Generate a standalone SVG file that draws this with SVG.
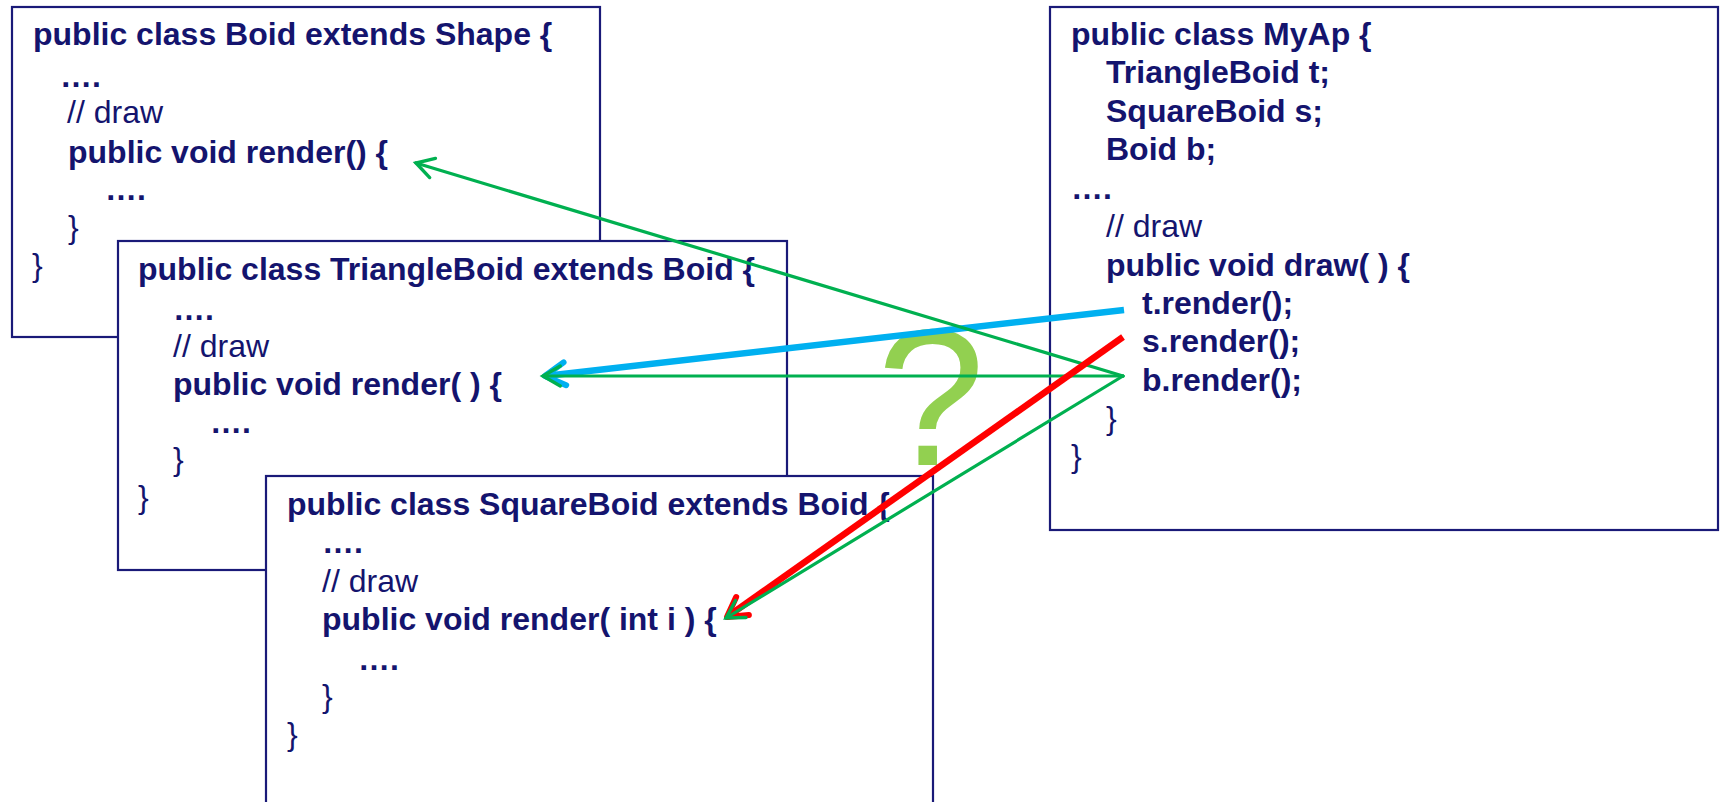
<svg xmlns="http://www.w3.org/2000/svg" width="1725" height="802" viewBox="0 0 1725 802">
  <style>
    .box { fill: #ffffff; stroke: #1a1a78; stroke-width: 2.2; }
    .t { font-family: "Liberation Sans", Arial, sans-serif; font-size: 32px; fill: #14146e; }
    .b { font-weight: bold; }
    .q { font-family: "Liberation Sans", Arial, sans-serif; font-size: 194px; fill: #92d050; }
    .cg { stroke: #00b050; stroke-width: 3.2; fill: none; stroke-linecap: round; }
    .cb { stroke: #00b0f0; stroke-width: 6.5; fill: none; stroke-linecap: butt; }
    .cr { stroke: #ff0000; stroke-width: 6.5; fill: none; stroke-linecap: butt; }
  </style>
  <defs>
    <marker id="mg" markerUnits="userSpaceOnUse" markerWidth="40" markerHeight="40" refX="0" refY="0" orient="auto" overflow="visible">
      <path d="M -17.3 -10 L 0 0 L -17.3 10" fill="none" stroke="#00b050" stroke-width="3.4" stroke-linecap="round" stroke-linejoin="miter"/>
    </marker>
    <marker id="mb" markerUnits="userSpaceOnUse" markerWidth="40" markerHeight="40" refX="0" refY="0" orient="auto" overflow="visible">
      <path d="M -20 -11.5 L 0 0 L -20 11.5" fill="none" stroke="#00b0f0" stroke-width="6" stroke-linecap="round" stroke-linejoin="round"/>
    </marker>
    <marker id="mr" markerUnits="userSpaceOnUse" markerWidth="40" markerHeight="40" refX="0" refY="0" orient="auto" overflow="visible">
      <path d="M -19 -11 L 0 0 L -19 11" fill="none" stroke="#ff0000" stroke-width="6" stroke-linecap="round" stroke-linejoin="round"/>
    </marker>
  </defs>
  <rect width="1725" height="802" fill="#ffffff"/>

  <g id="boid">
    <rect class="box" x="12" y="7" width="588" height="330"/>
    <text class="t b" x="33" y="45">public class Boid extends Shape {</text>
    <text class="t b" x="60" y="87">….</text>
    <text class="t" x="67" y="123">// draw</text>
    <text class="t b" x="68" y="163">public void render() {</text>
    <text class="t b" x="105" y="200">….</text>
    <text class="t" x="68" y="238">}</text>
    <text class="t" x="32" y="276">}</text>
  </g>

  <g id="triangleboid">
    <rect class="box" x="118" y="241" width="669" height="329"/>
    <text class="t b" x="138" y="280">public class TriangleBoid extends Boid {</text>
    <text class="t b" x="173" y="320">….</text>
    <text class="t" x="173" y="357">// draw</text>
    <text class="t b" x="173" y="395">public void render( ) {</text>
    <text class="t b" x="210" y="433">….</text>
    <text class="t" x="173" y="470">}</text>
    <text class="t" x="138" y="508">}</text>
  </g>

  <g id="squareboid">
    <rect class="box" x="266" y="476" width="667" height="340"/>
    <text class="t b" x="287" y="515">public class SquareBoid extends Boid {</text>
    <text class="t b" x="322" y="553">….</text>
    <text class="t" x="322" y="592">// draw</text>
    <text class="t b" x="322" y="630">public void render( int i ) {</text>
    <text class="t b" x="358" y="670">….</text>
    <text class="t" x="322" y="707">}</text>
    <text class="t" x="287" y="745">}</text>
  </g>

  <g id="myap">
    <rect class="box" x="1050" y="7" width="668" height="523"/>
    <text class="t b" x="1071" y="45">public class MyAp {</text>
    <text class="t b" x="1106" y="83">TriangleBoid t;</text>
    <text class="t b" x="1106" y="122">SquareBoid s;</text>
    <text class="t b" x="1106" y="160">Boid b;</text>
    <text class="t b" x="1071" y="199">….</text>
    <text class="t" x="1106" y="237">// draw</text>
    <text class="t b" x="1106" y="276">public void draw( ) {</text>
    <text class="t b" x="1142" y="314">t.render();</text>
    <text class="t b" x="1142" y="352">s.render();</text>
    <text class="t b" x="1142" y="391">b.render();</text>
    <text class="t" x="1106" y="429">}</text>
    <text class="t" x="1071" y="467">}</text>
  </g>

  <g id="question">
    <text class="q" x="877" y="465">?</text>
  </g>

  <g id="connectors">
    <line class="cb" x1="1124" y1="310" x2="545" y2="376" marker-end="url(#mb)"/>
    <line class="cg" x1="1123" y1="376" x2="416" y2="163" marker-end="url(#mg)"/>
    <line class="cg" x1="1123" y1="376" x2="543" y2="376" marker-end="url(#mg)"/>
    <line class="cr" x1="1123" y1="337" x2="727" y2="617" marker-end="url(#mr)"/>
    <line class="cg" x1="1123" y1="376" x2="726" y2="618" marker-end="url(#mg)"/>
  </g>
</svg>
